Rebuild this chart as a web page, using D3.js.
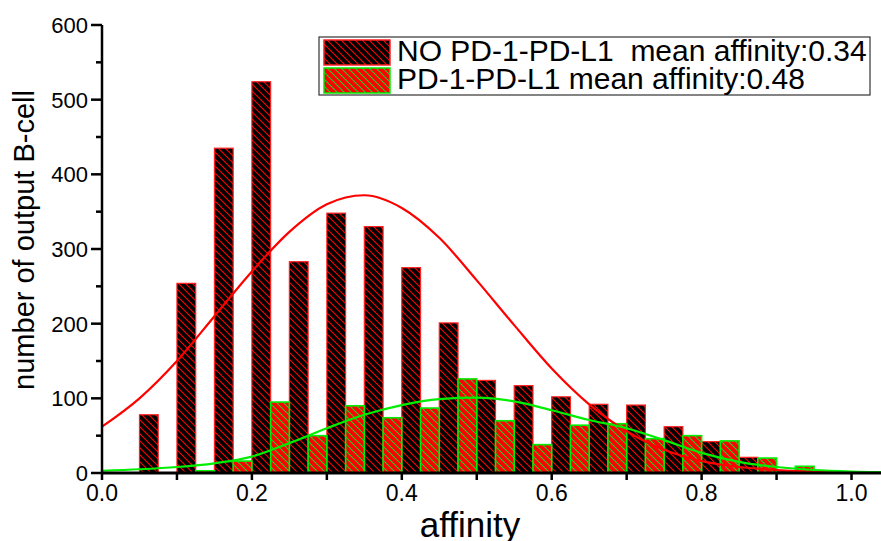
<!DOCTYPE html>
<html>
<head>
<meta charset="utf-8">
<script src="https://cdn.jsdelivr.net/npm/d3@7"></script>
<style>
    body { margin: 0; background: #fff; }
    text { font-family: 'Liberation Sans', Arial, sans-serif; fill: #000; white-space: pre; }
</style>
</head>
<body>
<svg id="chart" width="881" height="541"></svg>
<script>
// histogram bins (left edge of each 0.05 bin)
let binStarts = [0.05, 0.10, 0.15, 0.20, 0.25, 0.30, 0.35, 0.40, 0.45, 0.50,
    0.55, 0.60, 0.65, 0.70, 0.75, 0.80, 0.85, 0.90, 0.95];
let noPdCounts = [78, 254, 435, 524, 283, 348, 330, 275, 201, 124,
    117, 102, 92, 91, 62, 42, 21, 3, 1];
let pdCounts = [0, 3, 16, 95, 50, 90, 74, 87, 126, 70,
    38, 64, 66, 46, 50, 43, 20, 9, 0];

// fitted curves
let curveX = [0, 0.05, 0.10, 0.15, 0.20, 0.25, 0.30, 0.35, 0.40, 0.45, 0.50,
    0.55, 0.60, 0.65, 0.70, 0.75, 0.80, 0.85, 0.90, 0.95, 1.00, 1.05];
let noPdFit = [62, 100, 150, 210, 270, 323, 360, 372, 355, 315, 258,
    198, 140, 92, 56, 31, 16, 8, 4, 1.5, 0.5, 0.2];
let pdFit = [3, 5, 8, 13, 22, 40, 60, 78, 91, 99, 101,
    96, 84, 71, 60, 44, 27, 15, 8, 4, 2, 1];

let xTicks = [0, 0.2, 0.4, 0.6, 0.8, 1.0];
let xMinorTicks = [0.1, 0.3, 0.5, 0.7, 0.9];
let yTicks = [0, 100, 200, 300, 400, 500, 600];
let yMinorTicks = [50, 150, 250, 350, 450, 550];

let legendLabels = ['NO PD-1-PD-L1  mean affinity:0.34', 'PD-1-PD-L1 mean affinity:0.48'];

let svg = d3.select('#chart');

let x = d3.scaleLinear().domain([0, 1.04]).range([102, 881.5]);
let y = d3.scaleLinear().domain([0, 600]).range([473, 25]);
let half = 0.025;

// hatch patterns
let defs = svg.append('defs');
function hatch(id, bg, fg) {
    let p = defs
        .append('pattern')
        .attr('id', id)
        .attr('patternUnits', 'userSpaceOnUse')
        .attr('width', 7)
        .attr('height', 7);
    p.append('rect').attr('width', 7).attr('height', 7).attr('fill', bg);
    p.append('path')
        .attr('d', 'M0,0L7,7M-1,6L1,8M6,-1L8,1')
        .attr('stroke', fg)
        .attr('stroke-width', 1.1);
}
hatch('hatchBlack', '#000', '#ff0000');
hatch('hatchRed', '#ff0000', '#22cc22');

let bars = binStarts.map((b, i) => ({ start: b, a: noPdCounts[i], b: pdCounts[i] }));

svg.append('g')
    .selectAll('rect')
    .data(bars.filter(d => d.a > 0))
    .enter()
    .append('rect')
    .attr('x', d => x(d.start))
    .attr('y', d => y(d.a))
    .attr('width', d => x(d.start + half) - x(d.start))
    .attr('height', d => y(0) - y(d.a))
    .attr('fill', 'url(#hatchBlack)')
    .attr('stroke', '#ff2020')
    .attr('stroke-width', 1.2);

svg.append('g')
    .selectAll('rect')
    .data(bars.filter(d => d.b > 0))
    .enter()
    .append('rect')
    .attr('x', d => x(d.start + half))
    .attr('y', d => y(d.b))
    .attr('width', d => x(d.start + 2 * half) - x(d.start + half))
    .attr('height', d => y(0) - y(d.b))
    .attr('fill', 'url(#hatchRed)')
    .attr('stroke', '#00ee00')
    .attr('stroke-width', 1.6);

// fit curves
let line = d3
    .line()
    .x(d => x(d[0]))
    .y(d => y(d[1]))
    .curve(d3.curveMonotoneX);

svg.append('path')
    .datum(curveX.map((v, i) => [v, noPdFit[i]]))
    .attr('d', line)
    .attr('fill', 'none')
    .attr('stroke', '#ff0000')
    .attr('stroke-width', 2.2);

svg.append('path')
    .datum(curveX.map((v, i) => [v, pdFit[i]]))
    .attr('d', line)
    .attr('fill', 'none')
    .attr('stroke', '#00ee00')
    .attr('stroke-width', 2.2);

// axes
let xAxis = svg.append('g').attr('transform', 'translate(0,' + y(0) + ')');
xAxis.append('line')
    .attr('x1', x(0) - 1)
    .attr('x2', 881)
    .attr('stroke', '#000')
    .attr('stroke-width', 3);
xAxis.selectAll('.xt')
    .data(xTicks.concat(xMinorTicks))
    .enter()
    .append('line')
    .attr('x1', d => x(d))
    .attr('x2', d => x(d))
    .attr('y1', 0)
    .attr('y2', 7)
    .attr('stroke', '#000')
    .attr('stroke-width', 2.5);
xAxis.selectAll('text')
    .data(xTicks)
    .enter()
    .append('text')
    .attr('x', d => x(d))
    .attr('y', 28)
    .attr('text-anchor', 'middle')
    .attr('font-size', 23)
    .text(d => d3.format('.1f')(d));

let yAxis = svg.append('g').attr('transform', 'translate(' + x(0) + ',0)');
yAxis.append('line')
    .attr('y1', y(600))
    .attr('y2', y(0))
    .attr('stroke', '#000')
    .attr('stroke-width', 2.5);
yAxis.selectAll('.yt')
    .data(yTicks)
    .enter()
    .append('line')
    .attr('x1', -11)
    .attr('x2', 0)
    .attr('y1', d => y(d))
    .attr('y2', d => y(d))
    .attr('stroke', '#000')
    .attr('stroke-width', 2.5);
yAxis.selectAll('.ym')
    .data(yMinorTicks)
    .enter()
    .append('line')
    .attr('x1', -6)
    .attr('x2', 0)
    .attr('y1', d => y(d))
    .attr('y2', d => y(d))
    .attr('stroke', '#000')
    .attr('stroke-width', 2.5);
yAxis.selectAll('text')
    .data(yTicks)
    .enter()
    .append('text')
    .attr('x', -14)
    .attr('y', d => y(d))
    .attr('dy', '0.36em')
    .attr('text-anchor', 'end')
    .attr('font-size', 22)
    .text(d => d);

// axis titles
svg.append('text')
    .attr('transform', 'translate(34,240) rotate(-90)')
    .attr('text-anchor', 'middle')
    .attr('font-size', 29)
    .text('number of output B-cell');

svg.append('text')
    .attr('x', 470)
    .attr('y', 537)
    .attr('text-anchor', 'middle')
    .attr('font-size', 35)
    .text('affinity');

// legend
let legend = svg.append('g');
legend.append('rect')
    .attr('x', 319)
    .attr('y', 37)
    .attr('width', 551)
    .attr('height', 58)
    .attr('fill', '#fff')
    .attr('stroke', '#333')
    .attr('stroke-width', 1.2);

let swatchFill = ['url(#hatchBlack)', 'url(#hatchRed)'];
let swatchStroke = ['#ff2020', '#00ee00'];
legendLabels.forEach((label, i) => {
    legend.append('rect')
        .attr('x', 324)
        .attr('y', 40 + i * 28)
        .attr('width', 66)
        .attr('height', 25)
        .attr('fill', swatchFill[i])
        .attr('stroke', swatchStroke[i])
        .attr('stroke-width', 1.5);
    legend.append('text')
        .attr('x', 397)
        .attr('y', 61 + i * 28)
        .attr('font-size', 30)
        .text(label);
});
</script>
</body>
</html>
